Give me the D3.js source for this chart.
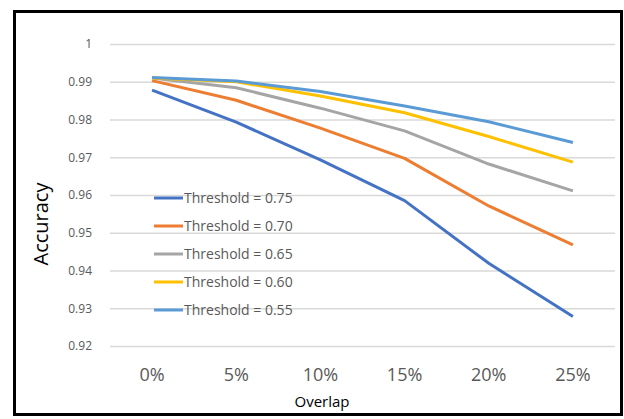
<!DOCTYPE html>
<html><head><meta charset="utf-8">
<script src="https://cdn.jsdelivr.net/npm/d3@7"></script>
<style>body{margin:0;background:#fff}svg{display:block}</style>
</head><body>
<svg id="c" width="624" height="419"></svg>
<script>
const categories = ["0%","5%","10%","15%","20%","25%"];
const seriesNames = ["Threshold = 0.75","Threshold = 0.70","Threshold = 0.65","Threshold = 0.60","Threshold = 0.55"];
const t075 = [0.9878,0.9793,0.9693,0.9585,0.9419,0.9278];
const t070 = [0.9903,0.9851,0.9777,0.9697,0.9571,0.9468];
const t065 = [0.9910,0.9884,0.9830,0.9770,0.9682,0.9611];
const t060 = [0.9910,0.9900,0.9862,0.9818,0.9755,0.9687];
const t055 = [0.9911,0.9902,0.9874,0.9836,0.9794,0.9739];
const yTicks = [0.92,0.93,0.94,0.95,0.96,0.97,0.98,0.99,1];
const colors = ["#4472C4","#ED7D31","#A5A5A5","#FFC000","#5B9BD5"];
const series = [t075,t070,t065,t060,t055];

const svg = d3.select("#c");
const font = "'Open Sans', 'Noto Sans', sans-serif";
svg.append("rect").attr("x",14.5).attr("y",11.5).attr("width",607).attr("height",403)
  .attr("fill","#fff").attr("stroke","#000").attr("stroke-width",3);

const x = d3.scaleBand().domain(categories).range([110,615]);
const y = d3.scaleLinear().domain([0.92,1]).range([346,44]);

const yAxis = svg.append("g").attr("transform","translate(110,0)")
  .call(d3.axisLeft(y).tickValues(yTicks).tickSize(-505).tickFormat(d=>d===1?"1":d3.format(".2f")(d)).tickPadding(18));
yAxis.select(".domain").remove();
yAxis.selectAll("line").attr("stroke","#d9d9d9").attr("stroke-width",1.3);
yAxis.selectAll("text").attr("fill","#595959").style("font-family",font).style("font-size","12px");

const xAxis = svg.append("g").attr("transform","translate(0,346)")
  .call(d3.axisBottom(x).tickSize(0).tickPadding(22));
xAxis.select(".domain").remove();
xAxis.selectAll("text").attr("fill","#595959").style("font-family",font).style("font-size","18px");

const line = d3.line().x((d,i)=>x(categories[i])+x.bandwidth()/2).y(d=>y(d));
series.forEach((s,k)=>{
  svg.append("path").datum(s).attr("d",line).attr("fill","none")
    .attr("stroke",colors[k]).attr("stroke-width",3).attr("stroke-linejoin","round");
});

const lg = svg.append("g");
seriesNames.forEach((n,k)=>{
  const yy = 198 + k*28;
  lg.append("line").attr("x1",154).attr("x2",183).attr("y1",yy).attr("y2",yy)
    .attr("stroke",colors[k]).attr("stroke-width",3);
  lg.append("text").attr("x",184).attr("y",yy+5).text(n).attr("fill","#595959")
    .style("font-family",font).style("font-size","14px");
});

svg.append("text").attr("transform","translate(48,224) rotate(-90)").attr("text-anchor","middle")
  .text("Accuracy").style("font-family",font).style("font-size","20px").attr("fill","#000");
svg.append("text").attr("x",322).attr("y",407).attr("text-anchor","middle")
  .text("Overlap").style("font-family",font).style("font-size","15px").attr("fill","#000");
</script>
</body></html>
